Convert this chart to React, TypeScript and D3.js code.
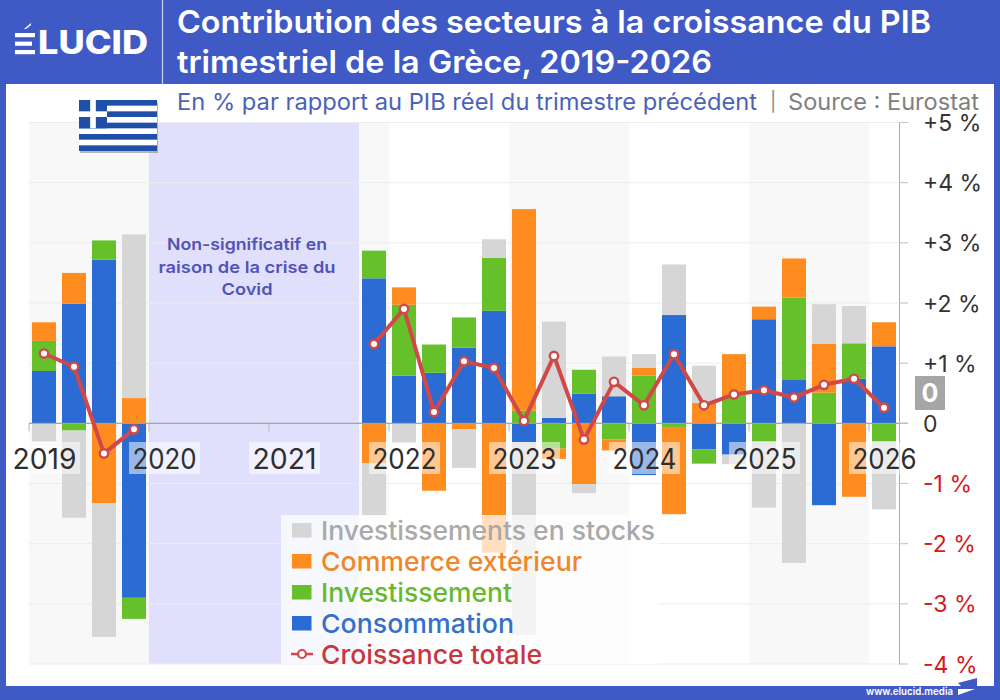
import React from 'react';
import * as d3 from 'd3';

// trimestres 2019T1 -> 2026T1, null = periode Covid non tracee
const quarters = [
  '2019T1', '2019T2', '2019T3', '2019T4',
  '2020T1', '2020T2', '2020T3', '2020T4',
  '2021T1', '2021T2', '2021T3', '2021T4',
  '2022T1', '2022T2', '2022T3', '2022T4',
  '2023T1', '2023T2', '2023T3', '2023T4',
  '2024T1', '2024T2', '2024T3', '2024T4',
  '2025T1', '2025T2', '2025T3', '2025T4',
  '2026T1',
];
const n = null;
const consommation = [
  0.87, 1.99, 2.72, -2.9, n, n, n, n, n, n, n, 2.41,
  0.79, 0.84, 1.26, 1.87, -0.31, 0.09, 0.49, 0.45,
  -0.86, 1.8, -0.43, -0.52, 1.73, 0.72, -1.36, 0.74, 1.28,
];
const investissement = [
  0.5, -0.12, 0.32, -0.35, n, n, n, n, n, n, n, 0.46,
  1.18, 0.47, 0.5, 0.88, 0.21, -0.42, 0.4, -0.27,
  0.79, -0.06, -0.24, 0.47, -0.3, 1.37, 0.51, 0.59, -0.3,
];
const commerce = [
  0.31, 0.51, -1.33, 0.42, n, n, n, n, n, n, n, -0.66,
  0.29, -1.12, -0.1, -2.15, 3.35, -0.17, -1.01, -0.18,
  0.13, -1.45, 0.34, 0.68, 0.21, 0.65, 0.81, -1.22, 0.4,
];
const stocks = [
  -0.3, -1.45, -2.22, 2.72, n, n, n, n, n, n, n, -0.87,
  -0.33, 0, -0.64, 0.31, -3.21, 1.6, -0.15, 0.66,
  0.23, 0.84, 0.62, -0.16, -1.1, -2.32, 0.66, 0.62, -1.13,
];
const croissance = [
  1.16, 0.94, -0.5, -0.1, n, n, n, n, n, n, n, 1.32,
  1.9, 0.19, 1.03, 0.92, 0.04, 1.12, -0.27, 0.69,
  0.3, 1.15, 0.3, 0.48, 0.55, 0.43, 0.64, 0.74, 0.26,
];
const years = ['2019', '2020', '2021', '2022', '2023', '2024', '2025', '2026'];
const shadedYears = ['2019', '2021', '2023', '2025'];
const covidQuarters = ['2020T1', '2021T3'];
const yTicks = [5, 4, 3, 2, 1, 0, -1, -2, -3, -4];

const seriesKeys = ['consommation', 'investissement', 'commerce', 'stocks'];
const seriesValues: { [key: string]: (number | null)[] } = { consommation, investissement, commerce, stocks };
const colors: { [key: string]: string } = {
  consommation: '#2b6cd4',
  investissement: '#66c02a',
  commerce: '#ff8c1e',
  stocks: '#d6d6d6',
};
const legendRows = [
  { key: 'stocks', label: 'Investissements en stocks', color: '#a9a9a9', width: 334 },
  { key: 'commerce', label: 'Commerce extérieur', color: '#f0862a', width: 261 },
  { key: 'investissement', label: 'Investissement', color: '#68b92e', width: 191 },
  { key: 'consommation', label: 'Consommation', color: '#3470c9', width: 193 },
  { key: 'croissance', label: 'Croissance totale', color: '#c8363f', width: 221 },
];

const FONT = 'Inter, sans-serif';
const HEADER = '#3f59c5';
const RED = '#d04848';

const rows = quarters.map((q, i) => {
  const row: { [key: string]: number | string } = { q };
  seriesKeys.forEach(k => { row[k] = seriesValues[k][i] ?? 0; });
  return row;
});

function formatTick(v: number) {
  if (v === 0) return '0';
  return v > 0 ? `+${v} %` : `${v} %`;
}

export default function App() {
  const x = d3.scaleBand<string>().domain(quarters).range([29, 899]).paddingInner(0.2).paddingOuter(0.1);
  const y = d3.scaleLinear().domain([-4, 5]).range([664, 122.5]);
  const step = x.step();
  const bandLeft = (q: string) => (x(q) as number) - step * 0.1;
  const center = (q: string) => (x(q) as number) + x.bandwidth() / 2;

  const stacked = d3
    .stack<any>()
    .keys(seriesKeys)
    .offset(d3.stackOffsetDiverging)(rows);

  const lineGen = d3
    .line<number | null>()
    .defined(d => d !== null)
    .x((_, i) => center(quarters[i]))
    .y(d => y(d as number));

  const covidX0 = bandLeft(covidQuarters[0]);
  const covidX1 = bandLeft(covidQuarters[1]) + step;

  return (
    <svg width={1000} height={700} style={{ position: 'absolute', left: 0, top: 0 }} fontFamily={FONT}>
      <rect width={1000} height={700} fill={HEADER} />
      <rect x={6} y={84} width={988} height={602} fill="#fff" />
      <line x1={162.5} x2={162.5} y1={0} y2={84} stroke="#c9d1ee" strokeWidth={1.2} />

      {/* logo */}
      <g fill="#fff">
        <polygon points="24,29 31,23 31,25 26,29" />
        <rect x={15} y={33} width={20} height={4.2} />
        <rect x={15} y={41.6} width={17} height={4.2} />
        <rect x={15} y={50} width={20} height={4.2} />
        <text x={38} y={54} fontSize={33} fontWeight={800} textLength={110} lengthAdjust="spacingAndGlyphs">LUCID</text>
      </g>

      {/* titre */}
      <g fill="#fff" fontSize={31.5} fontWeight={600}>
        <text x={177} y={33} textLength={754} lengthAdjust="spacingAndGlyphs">Contribution des secteurs à la croissance du PIB</text>
        <text x={177} y={73} textLength={535} lengthAdjust="spacingAndGlyphs">trimestriel de la Grèce, 2019-2026</text>
      </g>
      <g fontSize={23}>
        <text x={177} y={110} fill="#4a62b8" textLength={580} lengthAdjust="spacingAndGlyphs">En % par rapport au PIB réel du trimestre précédent</text>
        <text x={770} y={108} fill="#8a8a8a" fontSize={19}>|</text>
        <text x={788} y={110} fill="#808080" textLength={191} lengthAdjust="spacingAndGlyphs">Source : Eurostat</text>
      </g>

      {/* fonds annuels */}
      {shadedYears.map(yr => (
        <rect key={yr} x={bandLeft(`${yr}T1`)} y={y(5)} width={step * 4} height={y(-4) - y(5)} fill="#f8f8f8" />
      ))}
      <rect x={covidX0} y={y(5)} width={covidX1 - covidX0} height={y(-4) - y(5)} fill="#e0e0fc" />

      {/* grille */}
      {yTicks.map(t => (
        <line key={t} x1={29} x2={908} y1={y(t)} y2={y(t)} stroke={t === 0 ? '#a3a3a3' : '#ececec'} strokeWidth={1} />
      ))}

      {/* barres empilees */}
      {stacked.map(s => (
        <g key={s.key} fill={colors[s.key]}>
          {s.map((d, i) => (
            d[1] !== d[0] ? (
              <rect
                key={i}
                x={x(quarters[i])}
                y={y(d[1])}
                width={x.bandwidth()}
                height={y(d[0]) - y(d[1])}
              />
            ) : null
          ))}
        </g>
      ))}

      {/* axes */}
      <line x1={29} x2={908} y1={y(0)} y2={y(0)} stroke="#a3a3a3" strokeWidth={1} />
      <line x1={899.5} x2={899.5} y1={y(5)} y2={y(-4)} stroke="#aaaaaa" strokeWidth={1} />
      {years.map(yr => (
        <line key={yr} x1={bandLeft(`${yr}T1`)} x2={bandLeft(`${yr}T1`)} y1={y(0)} y2={y(0) + 8} stroke="#b5b5b5" strokeWidth={1} />
      ))}
      {yTicks.map(t => (
        <line key={t} x1={899} x2={908} y1={y(t)} y2={y(t)} stroke="#c4c4c4" strokeWidth={1} />
      ))}

      {/* courbe */}
      <path d={lineGen(croissance) as string} fill="none" stroke={RED} strokeWidth={4} strokeLinejoin="round" />
      {croissance.map((v, i) => (
        v === null ? null : (
          <circle key={i} cx={center(quarters[i])} cy={y(v)} r={4.2} fill="#fff" stroke={RED} strokeWidth={2.4} />
        )
      ))}

      {/* annees */}
      {years.map(yr => {
        const cx = center(`${yr}T1`) + 0.5;
        return (
          <g key={yr}>
            <rect x={cx - 35.5} y={442} width={71} height={32} fill="#fff" fillOpacity={0.52} />
            <text x={cx} y={469} textAnchor="middle" fontSize={28} fill="#2e2e2e" textLength={64} lengthAdjust="spacingAndGlyphs">{yr}</text>
          </g>
        );
      })}

      {/* labels axe y */}
      {yTicks.map(t => (
        <text key={t} x={923} y={y(t) + 8.5} fontSize={23} fill={t < 0 ? '#d7191c' : '#333'}>{formatTick(t)}</text>
      ))}
      <rect x={915} y={376} width={30} height={34} fill="#a6a6a6" />
      <text x={930} y={402} textAnchor="middle" fontSize={25} fontWeight={700} fill="#fff">0</text>

      {/* non significatif */}
      <g fontSize={16.5} fontWeight={600} fill="#5253b8" textAnchor="middle">
        <text x={247} y={250} textLength={160} lengthAdjust="spacingAndGlyphs">Non-significatif en</text>
        <text x={247} y={273} textLength={177} lengthAdjust="spacingAndGlyphs">raison de la crise du</text>
        <text x={247} y={295} textLength={51} lengthAdjust="spacingAndGlyphs">Covid</text>
      </g>

      {/* legende */}
      <rect x={281} y={515} width={377} height={149} fill="#fff" fillOpacity={0.72} />
      {legendRows.map((row, i) => {
        const base = 539 + i * 31;
        return (
          <g key={row.key}>
            {row.key === 'croissance' ? (
              <g>
                <line x1={291} x2={313} y1={base - 9} y2={base - 9} stroke={RED} strokeWidth={2.5} />
                <circle cx={302} cy={base - 9} r={4} fill="#fff" stroke={RED} strokeWidth={2.2} />
              </g>
            ) : (
              <rect x={292} y={base - 16} width={19.5} height={14.5} fill={colors[row.key]} />
            )}
            <text x={321} y={base + 1} fontSize={26} fontWeight={500} fill={row.color} textLength={row.width} lengthAdjust="spacingAndGlyphs">{row.label}</text>
          </g>
        );
      })}

      {/* drapeau */}
      <Flag />

      {/* pied */}
      <text x={866} y={695} fontSize={11} fontWeight={600} fill="#fff" textLength={87} lengthAdjust="spacingAndGlyphs">www.elucid.media</text>
      <polygon points="958,683 977,678 977,686 963,688" fill={HEADER} />
      <polygon points="958,689 975,689 958,695" fill="#fff" />
    </svg>
  );
}

function Flag() {
  const stripes = d3.range(9);
  const h = d3.scaleBand<number>().domain(stripes).range([100, 151]);
  const s = h.bandwidth();
  const blue = '#1f4fa8';
  return (
    <g>
      <rect x={80} y={102} width={78} height={51} fill="#8a8a8a" opacity={0.6} />
      <rect x={79} y={100} width={78} height={51} fill="#fff" />
      {stripes.filter(i => i % 2 === 0).map(i => (
        <rect key={i} x={79} y={h(i)} width={78} height={s} fill={blue} />
      ))}
      <rect x={79} y={100} width={28} height={s * 5} fill={blue} />
      <rect x={79} y={100 + s * 2} width={28} height={s} fill="#fff" />
      <rect x={79 + 28 / 2 - s / 2} y={100} width={s} height={s * 5} fill="#fff" />
    </g>
  );
}
